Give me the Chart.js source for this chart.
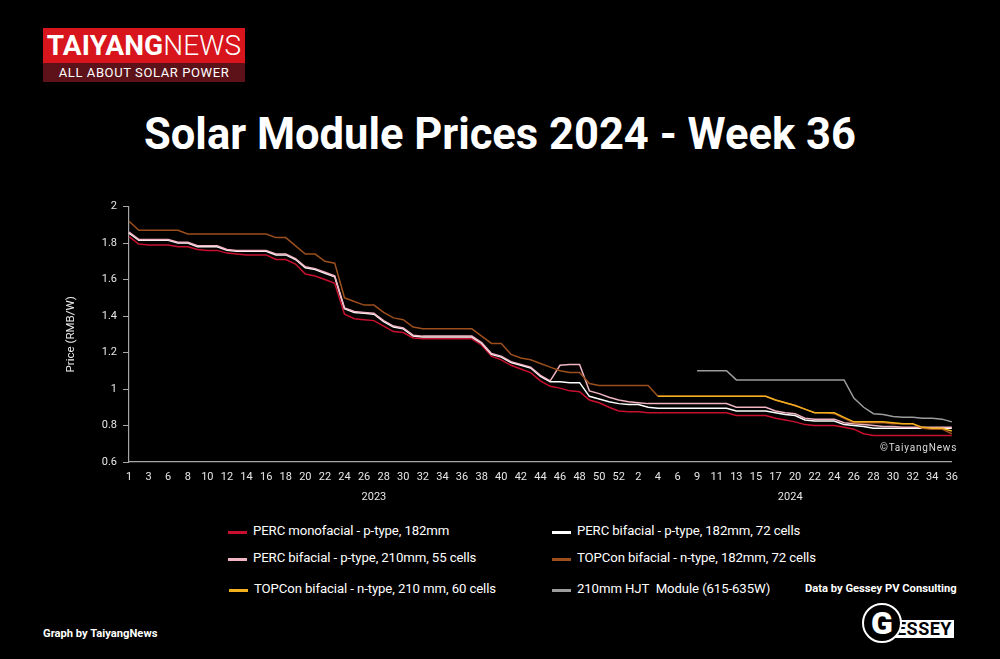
<!DOCTYPE html>
<html>
<head>
<meta charset="utf-8">
<script src="https://cdn.jsdelivr.net/npm/chart.js@4.4.1/dist/chart.umd.min.js"></script>
<style>
  html, body { margin: 0; padding: 0; background: #000; }
  #page { position: relative; width: 1000px; height: 659px; background: #000; overflow: hidden; font-family: Roboto, sans-serif; color: #fff; }
  #logo { position: absolute; left: 43px; top: 28px; width: 202px; }
  #logo .top { height: 35px; background: #d8141c; color: #fff; font-size: 28px; line-height: 36px; text-align: center; letter-spacing: 0.1px; }
  #logo .top b { font-weight: 700; }
  #logo .top span { font-weight: 300; }
  #logo .bot { height: 19px; background: #5c1218; color: #fff; font-size: 13px; line-height: 19px; text-align: center; letter-spacing: 0.6px; }
  #title { position: absolute; left: 0; top: 109px; width: 1000px; text-align: center; font-size: 43.5px; font-weight: 700; letter-spacing: 0; }
  #chart-box { position: absolute; left: 40px; top: 194px; width: 927px; height: 318px; }
  #copy { position: absolute; left: 880px; top: 442px; font-size: 10px; letter-spacing: 0.8px; color: #ddd; }
  .leg { position: absolute; font-size: 13.2px; color: #fff; white-space: nowrap; letter-spacing: -0.1px; }
  .leg i { position: absolute; left: -25px; top: 8px; width: 19px; height: 2.5px; }
  #credit { position: absolute; left: 805px; top: 582px; font-size: 11.2px; font-weight: 700; }
  #graphby { position: absolute; left: 43px; top: 627px; font-size: 11.2px; font-weight: 700; }
  #gessey { position: absolute; left: 862px; top: 603px; width: 94px; height: 40px; }
  #gessey .box { position: absolute; left: 18px; top: 17px; width: 74px; height: 18px; background: #fff; color: #000; font-size: 18px; font-weight: 700; line-height: 18px; text-align: right; padding-right: 2px; box-sizing: border-box; letter-spacing: 0.5px; }
  #gessey .g { position: absolute; left: 0; top: 0; width: 36px; height: 36px; border-radius: 50%; background: #000; border: 2px solid #fff; color: #fff; font-size: 32px; font-weight: 900; line-height: 36px; text-align: center; }
</style>
</head>
<body>
<div id="page">
  <div id="logo">
    <div class="top"><b>TAIYANG</b><span>NEWS</span></div>
    <div class="bot">ALL ABOUT SOLAR POWER</div>
  </div>
  <div id="title">Solar Module Prices 2024 - Week 36</div>
  <div id="chart-box"><canvas id="chart"></canvas></div>
  <div id="copy">©TaiyangNews</div>
  <div id="legend"></div>
  <div id="credit">Data by Gessey PV Consulting</div>
  <div id="graphby">Graph by TaiyangNews</div>
  <div id="gessey"><div class="box">ESSEY</div><div class="g">G</div></div>
</div>
<script>
(function(){
const weeks2023 = [1,2,3,5,6,7,8,9,10,11,12,13,14,15,16,17,18,19,20,21,22,23,24,25,26,27,28,29,30,31,32,33,34,35,36,37,38,39,40,41,42,43,44,45,46,47,48,49,50,51,52];
const weeks2024 = [1,2,3,4,5,6,8,9,10,11,12,13,14,15,16,17,19,20,21,22,23,24,25,26,27,28,29,30,31,32,33,34,35,36];
const years = ['2023', '2024'];

const percMono182 = [1.835,1.795,1.79,1.79,1.79,1.78,1.78,1.765,1.76,1.76,1.745,1.74,1.735,1.735,1.735,1.71,1.71,1.685,1.63,1.62,1.60,1.58,1.41,1.385,1.38,1.375,1.345,1.315,1.31,1.28,1.275,1.275,1.275,1.275,1.275,1.275,1.24,1.18,1.16,1.13,1.11,1.09,1.045,1.015,1.005,0.99,0.985,0.94,0.925,0.90,0.88,0.875,0.875,0.87,0.87,0.87,0.87,0.87,0.87,0.87,0.87,0.87,0.855,0.855,0.855,0.855,0.84,0.83,0.82,0.805,0.80,0.80,0.80,0.79,0.78,0.755,0.745,0.745,0.745,0.745,0.745,0.745,0.745,0.745,0.745];
const percBi182 = [1.855,1.815,1.815,1.815,1.815,1.80,1.80,1.78,1.78,1.78,1.76,1.755,1.755,1.755,1.755,1.735,1.735,1.71,1.665,1.655,1.635,1.615,1.44,1.42,1.415,1.41,1.37,1.34,1.33,1.29,1.285,1.285,1.285,1.285,1.285,1.285,1.25,1.19,1.175,1.145,1.13,1.115,1.07,1.04,1.04,1.035,1.035,0.96,0.945,0.93,0.92,0.915,0.915,0.90,0.895,0.895,0.895,0.895,0.895,0.895,0.895,0.895,0.88,0.88,0.88,0.88,0.87,0.86,0.855,0.83,0.825,0.825,0.825,0.805,0.80,0.795,0.785,0.785,0.785,0.785,0.785,0.785,0.785,0.785,0.785];
const percBi210 = [1.86,1.82,1.82,1.82,1.82,1.805,1.805,1.785,1.785,1.785,1.765,1.76,1.76,1.76,1.76,1.74,1.74,1.715,1.67,1.66,1.64,1.62,1.445,1.425,1.42,1.415,1.375,1.345,1.335,1.295,1.29,1.29,1.29,1.29,1.29,1.29,1.255,1.195,1.18,1.15,1.135,1.12,1.075,1.045,1.13,1.135,1.135,0.99,0.975,0.955,0.94,0.93,0.925,0.92,0.92,0.92,0.92,0.92,0.92,0.92,0.92,0.92,0.90,0.90,0.90,0.90,0.88,0.87,0.865,0.84,0.835,0.835,0.835,0.815,0.81,0.805,0.80,0.795,0.795,0.79,0.79,0.79,0.79,0.79,0.79];
const topcon182 = [1.92,1.87,1.87,1.87,1.87,1.87,1.85,1.85,1.85,1.85,1.85,1.85,1.85,1.85,1.85,1.83,1.83,1.785,1.74,1.74,1.70,1.69,1.50,1.48,1.46,1.46,1.42,1.39,1.38,1.34,1.33,1.33,1.33,1.33,1.33,1.33,1.29,1.25,1.25,1.19,1.17,1.16,1.14,1.12,1.10,1.09,1.09,1.03,1.02,1.02,1.02,1.02,1.02,1.02,0.96,0.96,0.96,0.96,0.96,0.96,0.96,0.96,0.96,0.96,0.96,0.96,0.94,0.925,0.91,0.89,0.87,0.87,0.865,0.84,0.815,0.815,0.815,0.815,0.81,0.81,0.81,0.785,0.78,0.78,0.755];
const topcon210 = [null,null,null,null,null,null,null,null,null,null,null,null,null,null,null,null,null,null,null,null,null,null,null,null,null,null,null,null,null,null,null,null,null,null,null,null,null,null,null,null,null,null,null,null,null,null,null,null,null,null,null,null,null,null,0.96,0.96,0.96,0.96,0.96,0.96,0.96,0.96,0.96,0.96,0.96,0.96,0.94,0.925,0.91,0.89,0.87,0.87,0.87,0.845,0.82,0.82,0.82,0.82,0.815,0.81,0.81,0.79,0.785,0.785,0.77];
const hjt210 = [null,null,null,null,null,null,null,null,null,null,null,null,null,null,null,null,null,null,null,null,null,null,null,null,null,null,null,null,null,null,null,null,null,null,null,null,null,null,null,null,null,null,null,null,null,null,null,null,null,null,null,null,null,null,null,null,null,null,1.10,1.10,1.10,1.10,1.05,1.05,1.05,1.05,1.05,1.05,1.05,1.05,1.05,1.05,1.05,1.05,0.95,0.90,0.865,0.86,0.85,0.845,0.845,0.84,0.84,0.835,0.82];

const seriesNames = [
    'PERC monofacial - p-type, 182mm',
    'PERC bifacial - p-type, 182mm, 72 cells',
    'PERC bifacial - p-type, 210mm, 55 cells',
    'TOPCon bifacial - n-type, 182mm, 72 cells',
    'TOPCon bifacial - n-type, 210 mm, 60 cells',
    '210mm HJT  Module (615-635W)'
];
const seriesColors = ['#c8102e', '#ffffff', '#f0b4c2', '#9c4f1c', '#f2b01e', '#9c9c9c'];
const seriesData = [percMono182, percBi182, percBi210, topcon182, topcon210, hjt210];
const drawOrder = [5, 4, 3, 2, 1, 0];

const labels = weeks2023.concat(weeks2024).map((w) => String(w));

// legend, two columns like the original
const legendPos = [[253, 523], [577, 523], [253, 550], [577, 550], [254, 581], [577, 581]];
const legendBox = document.getElementById('legend');
for (let i = 0; i < seriesNames.length; i++) {
    const div = document.createElement('div');
    div.className = 'leg';
    div.style.left = legendPos[i][0] + 'px';
    div.style.top = legendPos[i][1] + 'px';
    div.innerHTML = `<i style="background:${seriesColors[i]}"></i>${seriesNames[i].replace('  ', '&nbsp; ')}`;
    legendBox.appendChild(div);
}

const yearLabels = {
    id: 'yearLabels',
    afterDraw(chart) {
        const ctx = chart.ctx;
        const x = chart.scales.x;
        const groups = [[0, weeks2023.length - 1], [weeks2023.length, labels.length - 1]];
        ctx.save();
        ctx.fillStyle = '#e6e6e6';
        ctx.font = '11px Roboto';
        ctx.textAlign = 'center';
        ctx.textBaseline = 'middle';
        for (let i = 0; i < years.length; i++) {
            const px = (x.getPixelForValue(groups[i][0]) + x.getPixelForValue(groups[i][1])) / 2;
            ctx.fillText(years[i], px, x.top + 35);
        }
        ctx.restore();
    }
};

const datasets = seriesData.map((d, i) => ({
    label: seriesNames[i],
    data: d,
    borderColor: seriesColors[i],
    backgroundColor: seriesColors[i],
    borderWidth: 1.5,
    pointRadius: 0,
    tension: 0,
    spanGaps: false,
    order: drawOrder[i]
}));

new Chart(document.getElementById('chart'), {
    type: 'line',
    data: { labels: labels, datasets: datasets },
    options: {
        animation: false,
        responsive: true,
        maintainAspectRatio: false,
        layout: { padding: { top: 10, right: 10, left: 0, bottom: 0 } },
        plugins: { legend: { display: false }, tooltip: { enabled: false } },
        scales: {
            x: {
                type: 'category',
                offset: false,
                grid: { display: false, drawTicks: false },
                border: { display: true, color: '#a6a6a6', width: 1.2 },
                ticks: {
                    autoSkip: false,
                    maxRotation: 0,
                    padding: 9,
                    color: '#e6e6e6',
                    font: { family: 'Roboto', size: 11 },
                    callback: function(val, idx) { return idx % 2 === 0 ? this.getLabelForValue(val) : ''; }
                },
                afterFit(scale) { scale.height = 50; }
            },
            y: {
                min: 0.6,
                max: 2,
                grid: { drawOnChartArea: false, color: '#a6a6a6', tickLength: 6 },
                border: { display: true, color: '#a6a6a6', width: 1.2 },
                ticks: {
                    stepSize: 0.2,
                    padding: 6,
                    color: '#e6e6e6',
                    font: { family: 'Roboto', size: 11 },
                    callback: (v) => String(Math.round(v * 10) / 10)
                },
                title: {
                    display: true,
                    text: 'Price (RMB/W)',
                    color: '#ececec',
                    font: { family: 'Roboto', size: 11.5 },
                    padding: { top: 24, bottom: 4 }
                },
                afterFit(scale) { scale.width = 89; }
            }
        }
    },
    plugins: [yearLabels]
});
}());
</script>
</body>
</html>
